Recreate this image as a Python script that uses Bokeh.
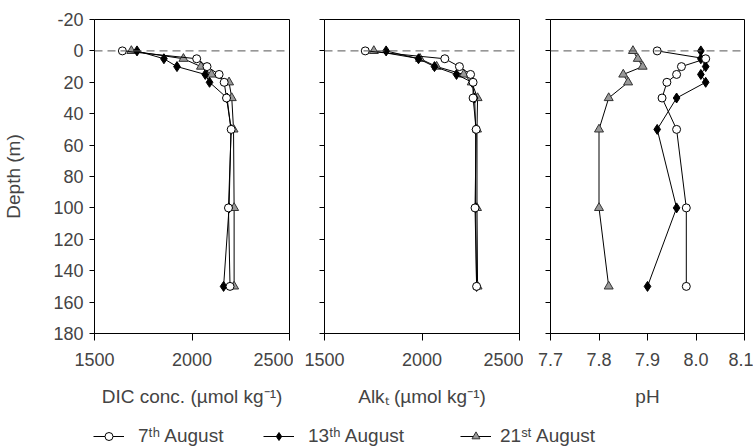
from bokeh.plotting import figure
from bokeh.models import (Range1d, FixedTicker, Span, Legend, LegendItem,
                          PrintfTickFormatter)
from bokeh.layouts import row, column
from bokeh.embed import file_html
from bokeh.resources import INLINE

# ---------------- data ----------------
depth = [0, 5, 10, 15, 20, 30, 50, 100, 150]

dic_7 = [1643, 2024, 2077, 2139, 2165, 2177, 2201, 2187, 2195]
dic_13 = [1718, 1856, 1923, 2068, 2090, 2180, 2200, 2190, 2162]
dic_21 = [1689, 1956, 2046, 2100, 2190, 2204, 2213, 2216, 2216]

alk_7 = [1709, 2117, 2192, 2249, 2262, 2262, 2278, 2272, 2280]
alk_13 = [1816, 1982, 2064, 2177, 2257, 2270, 2275, 2275, 2280]
alk_21 = [1753, 1990, 2075, 2214, 2255, 2285, 2282, 2282, 2285]

ph_7 = [7.92, 8.02, 7.97, 7.96, 7.94, 7.93, 7.96, 7.98, 7.98]
ph_13 = [8.01, 8.01, 8.02, 8.01, 8.02, 7.96, 7.92, 7.96, 7.90]
ph_21 = [7.87, 7.88, 7.89, 7.85, 7.86, 7.82, 7.80, 7.80, 7.82]

depth_ticks = [-20, 0, 20, 40, 60, 80, 100, 120, 140, 160, 180]
depth_tick_labels = ["-20", "0", "20", "40", "60", "80", "100", "120", "140", "160", "180"]
conc_ticks = [1500, 2000, 2500]
ph_ticks = [7.7, 7.8, 7.9, 8.0, 8.1]

series_labels = ["7\u1d57\u02b0 August", "13\u1d57\u02b0 August", "21\u02e2\u1d57 August"]
panel_labels = ["DIC conc. (\u00b5mol kg\u207b\u00b9)", "Alk\u209c (\u00b5mol kg\u207b\u00b9)", "pH"]
y_label = "Depth (m)"

FONT = "Liberation Sans"
FS = "18px"      # tick labels
FS_LAB = "19px"  # axis titles and legend

styles = [
    dict(marker="circle", size=8, fill_color="white", line_color="black"),
    dict(marker="diamond", size=10, fill_color="black", line_color="black"),
    dict(marker="triangle", size=9, fill_color="#999999", line_color="#333333"),
]

y_range = Range1d(180, -20)


def make_panel(width, left, right, xr, xticks, xlabel, series, show_ylab):
    p = figure(width=width, height=413, x_range=xr, y_range=y_range,
               output_backend="svg", toolbar_location=None,
               min_border_left=left, min_border_right=right,
               min_border_top=19, min_border_bottom=80)
    p.xgrid.visible = False
    p.ygrid.visible = False
    p.outline_line_color = "black"
    p.outline_line_alpha = 1.0
    p.outline_line_width = 1
    p.background_fill_color = "white"
    p.border_fill_color = "white"

    xa = p.xaxis[0]
    xa.ticker = FixedTicker(ticks=xticks, minor_ticks=[])
    xa.axis_label = xlabel
    xa.axis_label_text_font = FONT
    xa.axis_label_text_font_size = FS_LAB
    xa.axis_label_text_font_style = "normal"
    xa.axis_label_standoff = 17
    xa.major_label_text_font = FONT
    xa.major_label_text_font_size = FS
    xa.major_label_standoff = 12
    xa.major_tick_out = 7
    xa.major_tick_in = 0
    xa.minor_tick_out = 0
    xa.minor_tick_in = 0
    xa.axis_line_color = "black"
    xa.major_tick_line_color = "black"

    ya = p.yaxis[0]
    ya.ticker = FixedTicker(ticks=depth_ticks, minor_ticks=[])
    ya.major_tick_out = 5
    ya.major_tick_in = 0
    ya.minor_tick_out = 0
    ya.minor_tick_in = 0
    ya.axis_line_color = "black"
    ya.major_tick_line_color = "black"
    ya.major_label_text_font = FONT
    if show_ylab:
        ya.major_label_overrides = dict(zip(depth_ticks, depth_tick_labels))
        ya.axis_label = y_label
        ya.axis_label_text_font = FONT
        ya.axis_label_text_font_size = FS_LAB
        ya.axis_label_text_font_style = "normal"
        ya.axis_label_standoff = 26
        ya.major_label_text_font_size = FS
        ya.major_label_standoff = 6
    else:
        ya.major_label_text_font_size = "0px"
        ya.major_label_text_color = None
        ya.major_label_standoff = 0

    p.add_layout(Span(location=0, dimension="width", line_color="#555555",
                      line_width=1, line_dash="8 5"))

    # draw 21st, 13th, 7th so that open circles sit on top
    for xs, st in reversed(list(zip(series, styles))):
        p.line(xs, depth, line_color="black", line_width=1)
        p.scatter(xs, depth, **st)
    return p


f1 = make_panel(293, 93, 4, Range1d(1500, 2500), conc_ticks, panel_labels[0],
                [dic_7, dic_13, dic_21], True)
f2 = make_panel(230, 31, 4, Range1d(1500, 2500), conc_ticks, panel_labels[1],
                [alk_7, alk_13, alk_21], False)
f3 = make_panel(230, 27, 9, Range1d(7.7, 8.1), ph_ticks, panel_labels[2],
                [ph_7, ph_13, ph_21], False)
f3.xaxis[0].formatter = PrintfTickFormatter(format="%.1f")

# ---------------- legend strip ----------------
lf = figure(width=753, height=34, x_range=Range1d(0, 1), y_range=Range1d(0, 1),
            output_backend="svg", toolbar_location=None,
            x_axis_location=None, y_axis_location=None,
            min_border_left=0, min_border_right=0, min_border_top=0,
            min_border_bottom=0)
lf.xgrid.visible = False
lf.ygrid.visible = False
lf.outline_line_color = None
lf.border_fill_color = "white"

# off-range proxy point so that each legend entry can draw its glyph
proxy = [-1]
legend_x = [93, 263, 460]
legend_standoff = [14, 14, 9]
for lab, st, lx, so in zip(series_labels, styles, legend_x, legend_standoff):
    lr = lf.line(x=proxy, y=proxy, line_color="black", line_width=1)
    sr = lf.scatter(x=proxy, y=proxy, **st)
    leg = Legend(items=[LegendItem(label=lab, renderers=[lr, sr])],
                 location=(lx, 0), orientation="horizontal",
                 glyph_width=31, glyph_height=20, label_standoff=so,
                 label_text_font=FONT, label_text_font_size=FS_LAB,
                 padding=0, margin=0, border_line_color=None,
                 background_fill_alpha=0)
    lf.add_layout(leg)

layout = column(row(f1, f2, f3), lf)

open("out.html", "w").write(file_html(layout, INLINE))
